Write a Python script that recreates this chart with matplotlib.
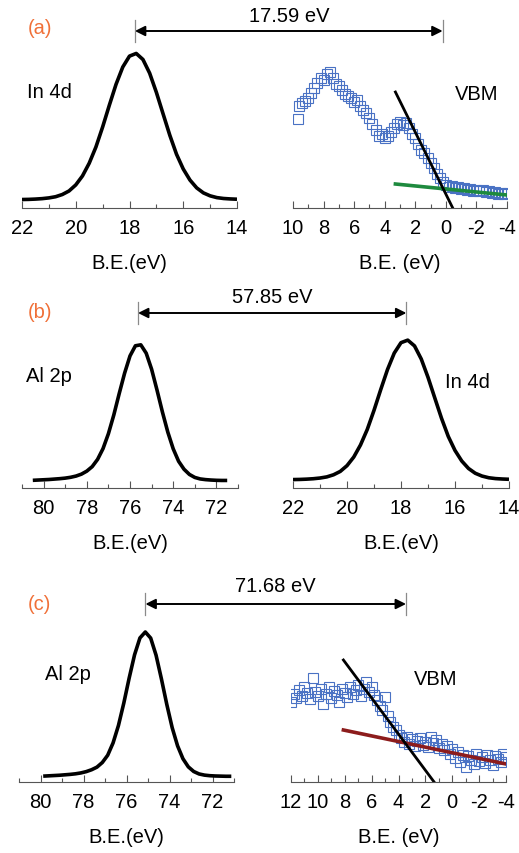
import matplotlib
matplotlib.use('Agg')
import matplotlib.pyplot as plt
from matplotlib.patches import ConnectionPatch
from matplotlib.lines import Line2D
from matplotlib.transforms import blended_transform_factory
from matplotlib.ticker import MultipleLocator

plt.rcParams['font.family'] = ['Liberation Sans', 'DejaVu Sans']
plt.rcParams['axes.unicode_minus'] = False

# In 4d core level (same peak in panels a and b), normalized intensity
in4d_be = [22.0, 21.75, 21.5, 21.25, 21.0, 20.75, 20.5, 20.25, 20.0, 19.75, 19.5,
           19.25, 19.0, 18.75, 18.5, 18.25, 18.0, 17.75, 17.5, 17.25, 17.0, 16.75,
           16.5, 16.25, 16.0, 15.75, 15.5, 15.25, 15.0, 14.75, 14.5, 14.25, 14.0]
in4d_int = [0.008, 0.009, 0.011, 0.014, 0.019, 0.027, 0.042, 0.066, 0.107, 0.168, 0.254,
            0.364, 0.500, 0.648, 0.790, 0.907, 0.981, 0.999, 0.958, 0.865, 0.735, 0.589,
            0.444, 0.315, 0.215, 0.140, 0.087, 0.053, 0.033, 0.021, 0.015, 0.012, 0.010]

# Al 2p, panel b
al2p_b_be = [80.5, 80.25, 80.0, 79.75, 79.5, 79.25, 79.0, 78.75, 78.5, 78.25, 78.0,
             77.75, 77.5, 77.25, 77.0, 76.75, 76.5, 76.25, 76.0, 75.75, 75.5, 75.25,
             75.0, 74.75, 74.5, 74.25, 74.0, 73.75, 73.5, 73.25, 73.0, 72.75, 72.5,
             72.25, 72.0, 71.75, 71.5]
al2p_b_int = [0.005, 0.007, 0.009, 0.011, 0.014, 0.017, 0.021, 0.027, 0.036, 0.050, 0.072,
              0.105, 0.158, 0.236, 0.345, 0.482, 0.638, 0.787, 0.913, 0.987, 0.994, 0.933,
              0.816, 0.664, 0.504, 0.357, 0.235, 0.144, 0.086, 0.048, 0.026, 0.015, 0.010,
              0.007, 0.005, 0.004, 0.004]

# Al 2p, panel c
al2p_c_be = [79.875, 79.625, 79.375, 79.125, 78.875, 78.625, 78.375, 78.125, 77.875,
             77.625, 77.375, 77.125, 76.875, 76.625, 76.375, 76.125, 75.875, 75.625,
             75.375, 75.125, 74.875, 74.625, 74.375, 74.125, 73.875, 73.625, 73.375,
             73.125, 72.875, 72.625, 72.375, 72.125, 71.875, 71.625, 71.375, 71.125]
al2p_c_int = [0.006, 0.008, 0.010, 0.012, 0.015, 0.018, 0.022, 0.028, 0.037,
              0.050, 0.068, 0.100, 0.150, 0.235, 0.355, 0.510, 0.683, 0.843,
              0.959, 1.000, 0.958, 0.840, 0.676, 0.500, 0.340, 0.215, 0.126,
              0.070, 0.038, 0.021, 0.013, 0.009, 0.007, 0.006, 0.005, 0.005]

# valence band spectrum, panel a
vb_a_be = [9.7, 9.6, 9.4, 9.2, 9.0, 8.8, 8.6, 8.4, 8.2, 8.0, 7.8, 7.6, 7.4, 7.2, 7.0,
           6.8, 6.6, 6.4, 6.2, 6.0, 5.8, 5.6, 5.4, 5.2, 5.0, 4.8, 4.6, 4.4, 4.2, 4.0,
           3.8, 3.6, 3.4, 3.2, 3.0, 2.8, 2.6, 2.4, 2.2, 2.0, 1.8, 1.6, 1.4, 1.2, 1.0,
           0.8, 0.6, 0.4, 0.2, 0.0, -0.2, -0.4, -0.6, -0.8, -1.0, -1.2, -1.4, -1.6,
           -1.8, -2.0, -2.2, -2.4, -2.6, -2.8, -3.0, -3.2, -3.4, -3.6, -3.8, -4.0]
vb_a_int = [0.89, 1.02, 1.05, 1.07, 1.10, 1.15, 1.20, 1.25, 1.30, 1.28, 1.34, 1.36, 1.30,
            1.24, 1.22, 1.18, 1.14, 1.12, 1.10, 1.06, 1.08, 1.02, 0.98, 0.95, 0.90, 0.84,
            0.78, 0.72, 0.74, 0.70, 0.72, 0.76, 0.80, 0.84, 0.86, 0.83, 0.85, 0.80, 0.74,
            0.70, 0.64, 0.58, 0.55, 0.50, 0.45, 0.40, 0.34, 0.30, 0.26, 0.23, 0.21, 0.22,
            0.20, 0.21, 0.19, 0.20, 0.18, 0.19, 0.17, 0.18, 0.17, 0.18, 0.16, 0.17, 0.15,
            0.16, 0.14, 0.15, 0.14, 0.15]
edge_a_be = [3.3, -0.45]
edge_a_int = [1.16, 0.0]
bg_a_be = [3.3, -4.0]
bg_a_int = [0.24, 0.13]

# valence band spectrum, panel c
vb_c_be = [12.0, 11.8, 11.6, 11.4, 11.2, 11.0, 10.8, 10.6, 10.4, 10.2, 10.0, 9.8, 9.6,
           9.4, 9.2, 9.0, 8.8, 8.6, 8.4, 8.2, 8.0, 7.8, 7.6, 7.4, 7.2, 7.0, 6.8, 6.6,
           6.4, 6.2, 6.0, 5.8, 5.6, 5.4, 5.2, 5.0, 4.8, 4.6, 4.4, 4.2, 4.0, 3.8, 3.6,
           3.4, 3.2, 3.0, 2.8, 2.6, 2.4, 2.2, 2.0, 1.8, 1.6, 1.4, 1.2, 1.0, 0.8, 0.6,
           0.4, 0.2, 0.0, -0.2, -0.4, -0.6, -0.8, -1.0, -1.2, -1.4, -1.6, -1.8, -2.0,
           -2.2, -2.4, -2.6, -2.8, -3.0, -3.2, -3.4, -3.6, -3.8, -4.0]
vb_c_int = [0.80, 0.88, 0.84, 0.92, 0.86, 0.95, 0.89, 0.83, 1.04, 0.90, 0.86, 0.93, 0.78,
            0.88, 0.95, 0.84, 0.91, 0.87, 0.80, 0.93, 0.89, 0.85, 0.95, 0.88, 0.92, 0.97,
            0.86, 0.93, 1.00, 0.90, 0.95, 0.87, 0.82, 0.76, 0.72, 0.85, 0.66, 0.60, 0.55,
            0.52, 0.47, 0.44, 0.40, 0.45, 0.38, 0.43, 0.36, 0.41, 0.44, 0.37, 0.40, 0.35,
            0.45, 0.39, 0.42, 0.34, 0.38, 0.32, 0.36, 0.28, 0.33, 0.24, 0.30, 0.20, 0.27,
            0.15, 0.26, 0.22, 0.18, 0.28, 0.21, 0.25, 0.19, 0.27, 0.22, 0.17, 0.26, 0.23,
            0.20, 0.28, 0.25]
edge_c_be = [8.1, 1.35]
edge_c_int = [1.22, 0.0]
bg_c_be = [8.1, -4.0]
bg_c_int = [0.52, 0.18]

# peak / VBM positions and separations
in4d_peak = 17.80
vbm_a = 0.21
al2p_peak_b = 75.63
al2p_peak_c = 75.12
vbm_c = 3.44
sep_labels = ['17.59 eV', '57.85 eV', '71.68 eV']

W, H = 519, 854
fig = plt.figure(figsize=(W / 100, H / 100), dpi=100)
orange = '#f07038'
blue = '#4a72c4'
FS = 14.5


def make_ax(x0, x1, spine, xlim, base, scale, h=170):
    ax = fig.add_axes([x0 / W, 1 - spine / H, (x1 - x0) / W, h / H])
    ax.set_xlim(xlim)
    ymin = -(spine - base) / scale
    ax.set_ylim(ymin, ymin + h / scale)
    for s in ['top', 'right', 'left']:
        ax.spines[s].set_visible(False)
    ax.spines['bottom'].set_color('#555555')
    ax.spines['bottom'].set_linewidth(0.8)
    ax.set_yticks([])
    ax.xaxis.set_major_locator(MultipleLocator(2))
    ax.xaxis.set_minor_locator(MultipleLocator(1))
    ax.tick_params(axis='x', which='both', direction='in', color='#555555',
                   labelsize=FS, pad=7, width=0.8)
    ax.tick_params(axis='x', which='major', length=5)
    ax.tick_params(axis='x', which='minor', length=3)
    ax.patch.set_alpha(0)
    return ax


def span_arrow(axA, xa, axB, xb, py, label, label_py):
    tA = blended_transform_factory(axA.transData, fig.transFigure)
    tB = blended_transform_factory(axB.transData, fig.transFigure)
    y = 1 - py / H
    con = ConnectionPatch(xyA=(xa, y), coordsA=tA, xyB=(xb, y), coordsB=tB,
                          arrowstyle='<|-|>', mutation_scale=15, lw=1.4, color='black')
    fig.add_artist(con)
    for t, x in ((tA, xa), (tB, xb)):
        fig.add_artist(Line2D([x, x], [y - 11 / H, y + 11 / H], transform=t,
                              color='#8a8a8a', lw=0.9))
    xa_px = tA.transform((xa, 0))[0]
    xb_px = tB.transform((xb, 0))[0]
    fig.text((xa_px + xb_px) / 2 / W, 1 - label_py / H, label, ha='center',
             va='center', fontsize=FS)


def peak_panel(ax, be, inten, name, nx, ny):
    ax.plot(be, inten, color='black', lw=2.6, solid_capstyle='butt')
    fig.text(nx / W, 1 - ny / H, name, ha='left', va='center', fontsize=FS)


def vb_panel(ax, be, inten, ebe, eint, bbe, bint, bg_color, vx, vy):
    ax.plot(be, inten, ls='none', marker='s', ms=6.5, mfc='none', mec=blue, mew=0.8)
    ax.plot(bbe, bint, color=bg_color, lw=2.6)
    ax.plot(ebe, eint, color='black', lw=2.0)
    fig.text(vx / W, 1 - vy / H, 'VBM', ha='center', va='center', fontsize=FS)


# (a)
ax_a1 = make_ax(22, 237, 209, (22, 14), 201.7, 147.4)
peak_panel(ax_a1, in4d_be, in4d_int, 'In 4d', 27, 92)
ax_a1.set_xlabel('B.E.(eV)', fontsize=FS, labelpad=12)
ax_a2 = make_ax(293, 507, 209, (10, -4), 209, 100)
vb_panel(ax_a2, vb_a_be, vb_a_int, edge_a_be, edge_a_int, bg_a_be, bg_a_int,
         '#1e8a3e', 477, 95)
ax_a2.set_xlabel('B.E. (eV)', fontsize=FS, labelpad=12)
span_arrow(ax_a1, in4d_peak, ax_a2, vbm_a, 32, sep_labels[0], 16)
fig.text(40 / W, 1 - 29 / H, '(a)', color=orange, ha='center', va='center', fontsize=FS)

# (b)
ax_b1 = make_ax(22, 238, 489, (81, 71), 482, 137)
peak_panel(ax_b1, al2p_b_be, al2p_b_int, 'Al 2p', 26, 377)
ax_b1.set_xlabel('B.E.(eV)', fontsize=FS, labelpad=12)
ax_b2 = make_ax(293, 509, 489, (22, 14), 481.7, 140.7)
peak_panel(ax_b2, in4d_be, in4d_int, 'In 4d', 445, 383)
ax_b2.set_xlabel('B.E.(eV)', fontsize=FS, labelpad=12)
span_arrow(ax_b1, al2p_peak_b, ax_b2, in4d_peak, 314, sep_labels[1], 298)
fig.text(40 / W, 1 - 313 / H, '(b)', color=orange, ha='center', va='center', fontsize=FS)

# (c)
ax_c1 = make_ax(19, 234, 783, (81, 71), 778, 145)
peak_panel(ax_c1, al2p_c_be, al2p_c_int, 'Al 2p', 45, 675)
ax_c1.set_xlabel('B.E.(eV)', fontsize=FS, labelpad=12)
ax_c2 = make_ax(291, 506, 783, (12, -4), 783, 100)
vb_panel(ax_c2, vb_c_be, vb_c_int, edge_c_be, edge_c_int, bg_c_be, bg_c_int,
         '#8c1c1c', 436, 680)
ax_c2.set_xlabel('B.E. (eV)', fontsize=FS, labelpad=12)
span_arrow(ax_c1, al2p_peak_c, ax_c2, vbm_c, 605, sep_labels[2], 587)
fig.text(39 / W, 1 - 605 / H, '(c)', color=orange, ha='center', va='center', fontsize=FS)

fig.savefig('out.png', dpi=100)
